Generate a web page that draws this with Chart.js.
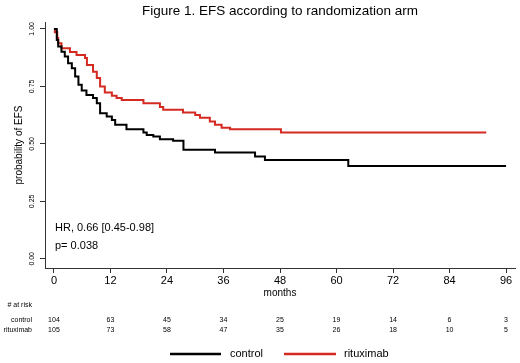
<!DOCTYPE html>
<html>
<head>
<meta charset="utf-8">
<script src="https://cdn.jsdelivr.net/npm/chart.js"></script>
<style>
  body { margin: 0; background: #fff; }
  #wrap { width: 520px; height: 363px; }
</style>
</head>
<body>
<div id="wrap"><canvas id="efsChart" width="520" height="363"></canvas></div>
<script>
// tick labels
const xTicks = [0, 12, 24, 36, 48, 60, 72, 84, 96];
const yTicks = [0, 0.25, 0.5, 0.75, 1];

// Kaplan-Meier steps (months, survival)
const controlTimes = [0, 0.6, 0.9, 1.6, 2.3, 3.0, 3.8, 4.5, 5.2, 5.9, 6.9, 8.3, 9.1, 9.8, 11.2, 12.3, 13.0, 15.4,
  19.0, 19.7, 21.1, 22.5, 25.3, 27.5, 34.2, 42.7, 44.8, 62.5, 96];
const controlSurv = [1.0, 0.952, 0.923, 0.901, 0.880, 0.851, 0.829, 0.793, 0.757, 0.732, 0.713, 0.699, 0.677, 0.633, 0.619, 0.604, 0.583, 0.564,
  0.549, 0.539, 0.532, 0.520, 0.514, 0.474, 0.462, 0.445, 0.430, 0.404, 0.404];

const rituxTimes = [0, 0.2, 0.7, 0.9, 1.6, 3.4, 4.8, 6.6, 7.0, 8.3, 9.1, 9.8, 10.8, 12.3, 13.3, 14.4, 19.0, 22.5, 23.2,
  27.4, 30.0, 31.0, 33.1, 34.2, 35.6, 37.4, 48.2, 91.8];
const rituxSurv = [1.0, 0.985, 0.960, 0.938, 0.916, 0.900, 0.887, 0.873, 0.843, 0.814, 0.786, 0.749, 0.723, 0.709, 0.699, 0.691, 0.677, 0.660, 0.648,
  0.636, 0.626, 0.613, 0.597, 0.583, 0.570, 0.564, 0.549, 0.549];

// numbers at risk
const atRiskControl = [104, 63, 45, 34, 25, 19, 14, 6, 3];
const atRiskRitux = [105, 73, 58, 47, 35, 26, 18, 10, 5];

const FONT = '"Liberation Sans", Arial, Helvetica, sans-serif';
const BLACK = '#000000';
const RED = '#d42a22';

const toPoints = (ts, ss) => ts.map((t, i) => ({ x: t, y: ss[i] }));

// text around the plot: title, y labels, annotation, at-risk table, legend
const extrasPlugin = {
  id: 'extras',
  afterDraw(chart) {
    const ctx = chart.ctx;
    const area = chart.chartArea;
    const xs = chart.scales.x;
    const ys = chart.scales.y;
    ctx.save();
    ctx.fillStyle = '#000';

    // title
    ctx.font = '13.5px ' + FONT;
    ctx.textAlign = 'center';
    ctx.textBaseline = 'middle';
    ctx.fillText('Figure 1. EFS according to randomization arm', (area.left + area.right) / 2, 11);

    // y tick labels, rotated
    ctx.font = '7px ' + FONT;
    yTicks.forEach(v => {
      ctx.save();
      ctx.translate(32, ys.getPixelForValue(v));
      ctx.rotate(-Math.PI / 2);
      ctx.fillText(v.toFixed(2), 0, 0);
      ctx.restore();
    });

    // HR annotation
    ctx.font = '11px ' + FONT;
    ctx.textAlign = 'left';
    ctx.fillText('HR, 0.66 [0.45-0.98]', 55, 228);
    ctx.fillText('p= 0.038', 55, 246);

    // x title
    ctx.font = '10px ' + FONT;
    ctx.textAlign = 'center';
    ctx.fillText('months', xs.getPixelForValue(48), 293);

    // at-risk table
    ctx.font = '7px ' + FONT;
    ctx.textAlign = 'right';
    ctx.fillText('# at risk', 32, 305);
    ctx.fillText('control', 32, 320);
    ctx.fillText('rituximab', 32, 330);
    ctx.textAlign = 'center';
    xTicks.forEach((t, i) => {
      const px = xs.getPixelForValue(t);
      ctx.fillText(String(atRiskControl[i]), px, 320);
      ctx.fillText(String(atRiskRitux[i]), px, 330);
    });

    // legend
    ctx.lineWidth = 2.5;
    ctx.strokeStyle = BLACK;
    ctx.beginPath(); ctx.moveTo(170, 354); ctx.lineTo(221, 354); ctx.stroke();
    ctx.strokeStyle = RED;
    ctx.beginPath(); ctx.moveTo(284, 354); ctx.lineTo(336, 354); ctx.stroke();
    ctx.font = '11px ' + FONT;
    ctx.textAlign = 'left';
    ctx.fillText('control', 230, 354);
    ctx.fillText('rituximab', 344, 354);
    ctx.restore();
  }
};

const ctx = document.getElementById('efsChart');
new Chart(ctx, {
  type: 'scatter',
  data: {
    datasets: [{
      label: 'control',
      data: toPoints(controlTimes, controlSurv),
      showLine: true,
      stepped: true,
      borderColor: BLACK,
      borderWidth: 2,
      pointRadius: 0
    },
    {
      label: 'rituximab',
      data: toPoints(rituxTimes, rituxSurv),
      showLine: true,
      stepped: true,
      borderColor: RED,
      borderWidth: 2,
      pointRadius: 0
    }]
  },
  options: {
    responsive: false,
    animation: false,
    layout: { padding: { top: 22, right: 5, left: 0, bottom: 0 } },
    plugins: {
      legend: { display: false },
      tooltip: { enabled: false }
    },
    scales: {
      x: {
        type: 'linear',
        min: -1.9,
        max: 97.9,
        afterBuildTicks: s => { s.ticks = xTicks.map(v => ({ value: v })); },
        afterFit: s => { s.height = 95; },
        ticks: { color: '#000', font: { family: FONT, size: 11 }, padding: 1, maxRotation: 0 },
        grid: { drawOnChartArea: false, drawTicks: true, tickLength: 5, color: '#333' },
        border: { color: '#333', width: 1 }
      },
      y: {
        min: -0.04,
        max: 1.03,
        afterBuildTicks: s => { s.ticks = yTicks.map(v => ({ value: v })); },
        afterFit: s => { s.width = 45; },
        ticks: { display: false },
        grid: { drawOnChartArea: false, drawTicks: true, tickLength: 5, color: '#333' },
        border: { color: '#333', width: 1 },
        title: {
          display: true,
          text: 'probability of EFS',
          color: '#000',
          font: { family: FONT, size: 10 },
          padding: { top: 13, bottom: 0 }
        }
      }
    }
  },
  plugins: [extrasPlugin]
});
</script>
</body>
</html>
